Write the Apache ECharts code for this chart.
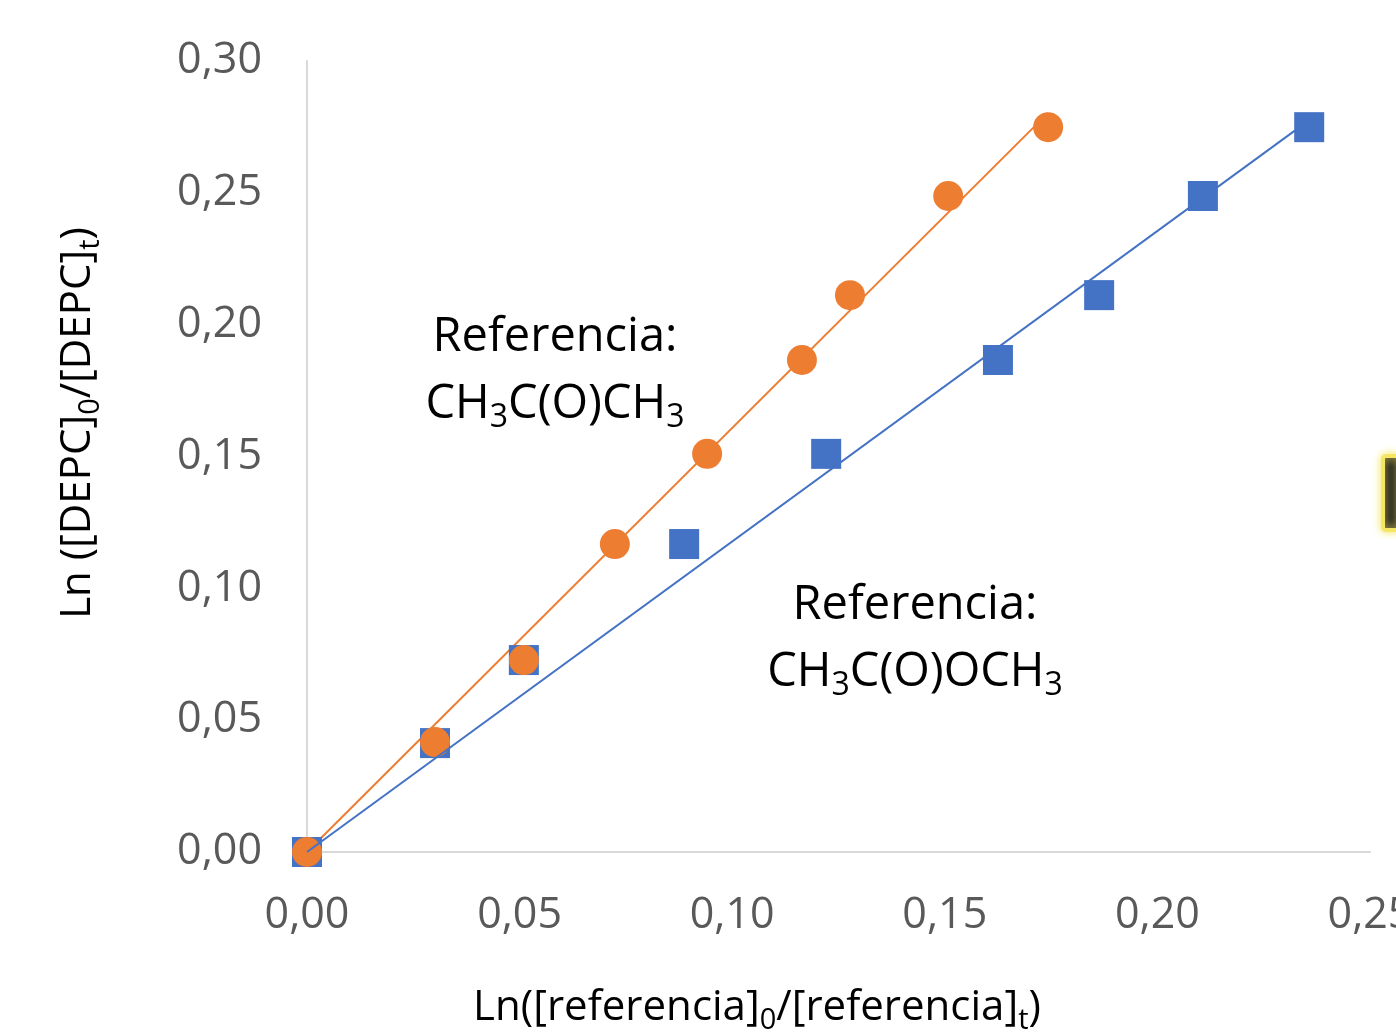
<!DOCTYPE html>
<html>
<head>
<meta charset="utf-8">
<script src="https://cdn.jsdelivr.net/npm/echarts@6/dist/echarts.min.js"></script>
<style>
html,body{margin:0;padding:0;background:#fff;}
#c{width:1396px;height:1036px;}
</style>
</head>
<body>
<div id="c"></div>
<script>
// Data
const acetonaX = [0, 0.0301, 0.0510, 0.0724, 0.0941, 0.1164, 0.1277, 0.1508, 0.1743];
const acetonaY = [0, 0.0417, 0.0728, 0.1168, 0.1510, 0.1866, 0.2112, 0.2488, 0.2749];
const acetatoX = [0, 0.0301, 0.0510, 0.0887, 0.1221, 0.1625, 0.1863, 0.2107, 0.2357];
const acetatoY = [0, 0.0413, 0.0728, 0.1168, 0.1510, 0.1866, 0.2112, 0.2488, 0.2749];
const xTicks = ['0,00', '0,05', '0,10', '0,15', '0,20', '0,25'];
const yTicks = ['0,00', '0,05', '0,10', '0,15', '0,20', '0,25', '0,30'];

function pairs(xs, ys) { return xs.map((x, i) => [x, ys[i]]); }
// least-squares trend line through the origin (as the reference's trend lines)
function trend(xs, ys) {
  let sxy = 0, sxx = 0;
  for (let i = 0; i < xs.length; i++) { sxy += xs[i] * ys[i]; sxx += xs[i] * xs[i]; }
  const m = sxy / sxx;
  const x1 = Math.max(...xs);
  return [[0, 0], [x1, m * x1]];
}

const FONT = 'Open Sans';
const ORANGE = '#ED7D31', BLUE = '#4472C4', GRAY = '#595959';

const chart = echarts.init(document.getElementById('c'));
const richAnn = {
  a: { fontFamily: FONT, fontSize: 47, color: '#000', lineHeight: 56 },
  s: { fontFamily: FONT, fontSize: 32, color: '#000', padding: [26, 0, 0, 0] }
};
const richAx = {
  a: { fontFamily: FONT, fontSize: 42, color: GRAY, lineHeight: 50 },
  s: { fontFamily: FONT, fontSize: 29, color: GRAY, padding: [24, 0, 0, 0] }
};

chart.setOption({
  animation: false,
  backgroundColor: '#fff',
  grid: { left: 307, right: 26, top: 61, bottom: 184, containLabel: false, outerBoundsMode: 'none' },
  xAxis: {
    type: 'value', min: 0, max: 0.25, interval: 0.05,
    axisLine: { show: true, onZero: false, lineStyle: { color: '#d9d9d9', width: 2 } },
    axisTick: { show: false },
    splitLine: { show: false },
    axisLabel: {
      margin: 42, fontFamily: FONT, fontSize: 43, color: GRAY, showMaxLabel: true,
      formatter: v => xTicks[Math.round(v / 0.05)]
    }
  },
  yAxis: {
    type: 'value', min: 0, max: 0.30, interval: 0.05,
    axisLine: { show: true, onZero: false, lineStyle: { color: '#d9d9d9', width: 2 } },
    axisTick: { show: false },
    splitLine: { show: false },
    axisLabel: {
      margin: 45, fontFamily: FONT, fontSize: 43, color: GRAY, padding: [6, 0, 0, 0],
      formatter: v => yTicks[Math.round(v / 0.05)]
    }
  },
  series: [
    { type: 'line', data: trend(acetonaX, acetonaY), showSymbol: false, symbol: 'none',
      lineStyle: { color: ORANGE, width: 2 }, z: 2 },
    { type: 'scatter', data: pairs(acetatoX, acetatoY), symbol: 'rect', symbolSize: 30,
      itemStyle: { color: BLUE, opacity: 1 }, z: 3 },
    { type: 'scatter', data: pairs(acetonaX, acetonaY), symbol: 'circle', symbolSize: 30,
      itemStyle: { color: ORANGE, opacity: 1 }, z: 4 },
    { type: 'line', data: trend(acetatoX, acetatoY), showSymbol: false, symbol: 'none',
      lineStyle: { color: BLUE, width: 2 }, z: 5 }
  ],
  graphic: [
    { type: 'text', z: 10,
      style: { x: 555, y: 310, align: 'center', verticalAlign: 'top',
        text: '{a|Referencia:}', rich: richAnn } },
    { type: 'text', z: 10,
      style: { x: 555, y: 376, align: 'center', verticalAlign: 'top',
        text: '{a|CH}{s|3}{a|C(O)CH}{s|3}', rich: richAnn } },
    { type: 'text', z: 10,
      style: { x: 915, y: 578, align: 'center', verticalAlign: 'top',
        text: '{a|Referencia:}', rich: richAnn } },
    { type: 'text', z: 10,
      style: { x: 915, y: 644, align: 'center', verticalAlign: 'top',
        text: '{a|CH}{s|3}{a|C(O)OCH}{s|3}', rich: richAnn } },
    { type: 'text', z: 10,
      style: { x: 757, y: 982, align: 'center', verticalAlign: 'top',
        text: '{a|Ln([referencia]}{s|0}{a|/[referencia]}{s|t}{a|)}', rich: richAx } },
    { type: 'text', z: 10, rotation: Math.PI / 2, x: 52, y: 423,
      style: { x: 0, y: 0, align: 'center', verticalAlign: 'top',
        text: '{a|Ln ([DEPC]}{s|0}{a|/[DEPC]}{s|t}{a|)}', rich: richAx } },
    { type: 'rect', z: 10,
      shape: { x: 1383, y: 456, width: 16, height: 74, r: 3 },
      style: { fill: '#1a1a1a', stroke: '#f5e663', lineWidth: 4, shadowColor: '#f5e663', shadowBlur: 8 } }
  ]
});
</script>
</body>
</html>
